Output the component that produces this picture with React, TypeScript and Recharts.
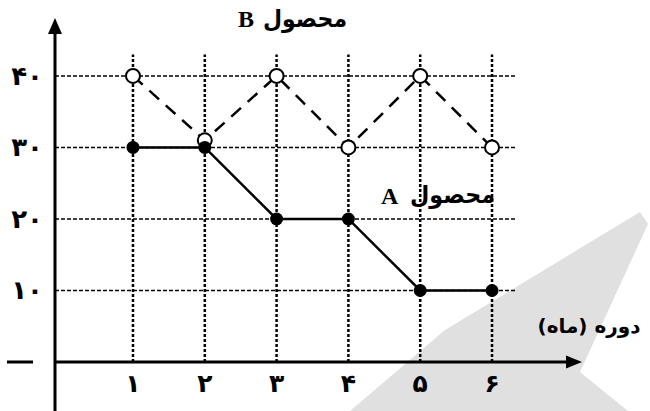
import React from 'react';
import { LineChart, Line, XAxis, YAxis, ReferenceLine } from 'recharts';

const months = [1, 2, 3, 4, 5, 6];
const productA = [30, 30, 20, 20, 10, 10];
const productB = [40, 31, 40, 30, 40, 30];
const yTicks = [0, 10, 20, 30, 40];
const gridRows = [10, 20, 30, 40];
const xTickLabels = ['۱', '۲', '۳', '۴', '۵', '۶'];
const yTickLabels = ['—', '۱۰', '۲۰', '۳۰', '۴۰'];
const titleB = 'محصول';
const titleA = 'محصول';
const xAxisTitle = 'دوره (ماه)';

const X_MIN = -0.086;
const X_MAX = 7.253;
const GRID_END = 6.32;
const Y_MAX = 43;

const data = months.map((m, i) => ({ month: m, a: productA[i], b: productB[i] }));

const FONT = '"DejaVu Sans", sans-serif';

const ArrowLine = (dir: 'up' | 'right') => (p: any) => {
  const { x1, y1, x2, y2 } = p;
  const pts =
    dir === 'up'
      ? `${x2},${y2} ${x2 - 7},${y2 + 16} ${x2 + 7},${y2 + 16}`
      : `${x2},${y2} ${x2 - 16},${y2 - 6.5} ${x2 - 16},${y2 + 6.5}`;
  return (
    <g>
      <line
        x1={x1}
        y1={y1}
        x2={dir === 'up' ? x2 : x2 - 10}
        y2={dir === 'up' ? y2 + 10 : y2}
        stroke="#000"
        strokeWidth={3}
      />
      <polygon points={pts} fill="#000" />
    </g>
  );
};

const YTick = (p: any) => {
  const i = yTicks.indexOf(p.payload.value);
  const label = yTickLabels[i];
  if (p.payload.value === 0) {
    return <rect x={7} y={p.y - 1.5} width={26} height={3} fill="#000" />;
  }
  return (
    <text x={p.x - 4} y={p.y + 9} textAnchor="end" fontFamily={FONT} fontWeight="bold" fontSize={26} fill="#000">
      {label}
    </text>
  );
};

const XTick = (p: any) => {
  const i = months.indexOf(p.payload.value);
  return (
    <text x={p.x} y={392} textAnchor="middle" fontFamily={FONT} fontWeight="bold" fontSize={25} fill="#000">
      {xTickLabels[i]}
    </text>
  );
};

const HollowDot = (p: any) => (
  <circle key={`b-${p.index}`} cx={p.cx} cy={p.cy} r={7} fill="#fff" stroke="#000" strokeWidth={2} strokeDasharray="0" />
);
const FilledDot = (p: any) => (
  <circle key={`a-${p.index}`} cx={p.cx} cy={p.cy} r={6.5} fill="#000" stroke="none" />
);

export default function App() {
  return (
    <div style={{ position: 'absolute', left: 0, top: 0, width: 650, height: 411, background: '#fff' }}>
      <svg width={650} height={411} style={{ position: 'absolute', left: 0, top: 0 }}>
        <polygon points="350,411 445,330 640,212 648,224 580,372 628,411" fill="#e0e0e0" />
      </svg>
      <div style={{ position: 'absolute', left: 0, top: 0 }}>
        <LineChart width={650} height={411} data={data} margin={{ top: 54.5, right: 68, bottom: 19, left: 0 }}>
          {months.map((m) => (
            <ReferenceLine
              key={`v${m}`}
              segment={[{ x: m, y: 0 }, { x: m, y: Y_MAX }]}
              stroke="#000"
              strokeWidth={2.5}
              strokeDasharray="3 2"
              ifOverflow="visible"
            />
          ))}
          {gridRows.map((v) => (
            <ReferenceLine
              key={`h${v}`}
              segment={[{ x: X_MIN, y: v }, { x: GRID_END, y: v }]}
              stroke="#000"
              strokeWidth={1.5}
              strokeDasharray="4 2"
              ifOverflow="visible"
            />
          ))}
          <XAxis
            dataKey="month"
            type="number"
            domain={[X_MIN, X_MAX]}
            allowDataOverflow
            ticks={months}
            axisLine={false}
            tickLine={false}
            height={30}
            tick={XTick}
          />
          <YAxis
            type="number"
            domain={[0, Y_MAX]}
            allowDataOverflow
            ticks={yTicks}
            axisLine={false}
            tickLine={false}
            width={55}
            tick={YTick}
          />
          <ReferenceLine
            segment={[{ x: X_MIN, y: 0 }, { x: X_MAX, y: 0 }]}
            ifOverflow="visible"
            shape={ArrowLine('right')}
          />
          <ReferenceLine
            segment={[{ x: X_MIN, y: -7 }, { x: X_MIN, y: 48.1 }]}
            ifOverflow="visible"
            shape={ArrowLine('up')}
          />
          <Line
            dataKey="b"
            stroke="#000"
            strokeWidth={2.5}
            strokeDasharray="13 9"
            dot={HollowDot}
            activeDot={false}
            isAnimationActive={false}
          />
          <Line
            dataKey="a"
            stroke="#000"
            strokeWidth={2.5}
            dot={FilledDot}
            activeDot={false}
            isAnimationActive={false}
          />
        </LineChart>
      </div>
      <svg width={650} height={411} style={{ position: 'absolute', left: 0, top: 0, pointerEvents: 'none' }}>
        <text x={238} y={27} fontFamily='"Liberation Serif", serif' fontWeight="bold" fontSize={24} fill="#000">B</text>
        <text x={263} y={27} textLength={84} lengthAdjust="spacingAndGlyphs" fontFamily={FONT} fontWeight="bold" fontSize={24} fill="#000">{titleB}</text>
        <text x={381} y={204} fontFamily='"Liberation Serif", serif' fontWeight="bold" fontSize={24} fill="#000">A</text>
        <text x={410} y={203} textLength={85} lengthAdjust="spacingAndGlyphs" fontFamily={FONT} fontWeight="bold" fontSize={24} fill="#000">{titleA}</text>
        <text x={589} y={333} textAnchor="middle" direction="rtl" fontFamily={FONT} fontWeight="bold" fontSize={20} fill="#000">{xAxisTitle}</text>
      </svg>
    </div>
  );
}
